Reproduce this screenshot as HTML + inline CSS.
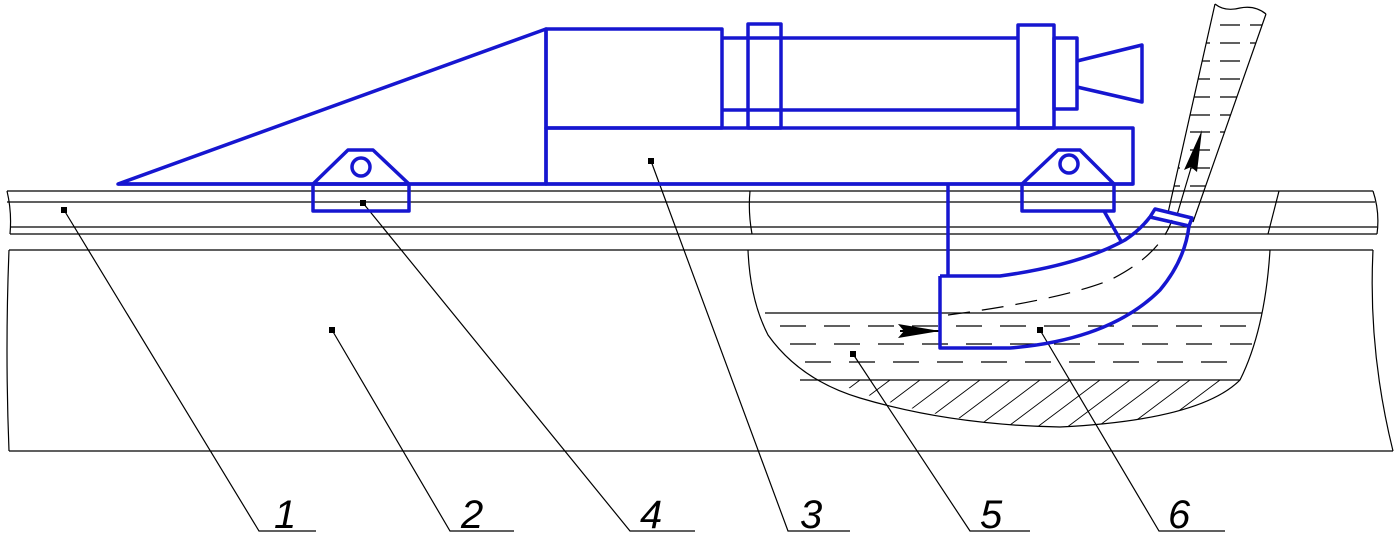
<!DOCTYPE html>
<html><head><meta charset="utf-8"><style>
html,body{margin:0;padding:0;background:#fff;}
svg{display:block;}
text{font-family:"Liberation Sans",sans-serif;font-style:italic;font-size:40px;fill:#000;}
</style></head><body>
<svg width="1397" height="544" viewBox="0 0 1397 544" xmlns="http://www.w3.org/2000/svg">
<defs>
<clipPath id="hc"><path d="M800,380 L1240,380 Q1200,420 1060,427 Q930,425 830,380 Z"/></clipPath>
<clipPath id="pc"><path d="M1215,4 L1266,14 L1193,222 L1168,213 Z"/></clipPath>
</defs>
<g fill="none" stroke="#000" stroke-width="1.2">
<!-- rail -->
<path d="M7,191 L1373,191 M7,202 L1375,202 M10,227 L1377,227 M10,234 L1377,234"/>
<path d="M7,191 Q12,212 10,234 M1373,191 Q1380,212 1377,234"/>
<path d="M750,191 Q748,212 752,234 M1279,191 L1268,234"/>
<!-- body -->
<path d="M9,250 L1373,250 M9,451 L1393,451"/>
<path d="M9,250 Q5,350 9,451 M1373,250 Q1368,350 1393,451"/>
<!-- pit -->
<path d="M748,250 Q750,300 768,335 Q800,380 860,398 Q950,425 1060,427 Q1200,420 1240,380 Q1265,330 1270,250"/>
<path d="M765,313 L1262,313 M800,380 L1240,380"/>
<path d="M780,326 L1258,326 M790,344 L1252,344 M805,362 L1245,362" stroke-dasharray="26,18"/>
<g clip-path="url(#hc)">
<path d="M780,440 L860,380 M810,440 L890,380 M840,440 L920,380 M870,440 L950,380 M900,440 L980,380 M930,440 L1010,380 M960,440 L1040,380 M990,440 L1070,380 M1020,440 L1100,380 M1050,440 L1130,380 M1080,440 L1160,380 M1110,440 L1190,380 M1140,440 L1220,380 M1170,440 L1250,380" stroke-width="0.9"/>
</g>
<!-- vertical pipe -->
<path d="M1215,4 L1168,213 M1266,14 L1193,222"/>
<path d="M1215,4 Q1225,12 1240,8 Q1255,5 1266,14"/>
<g clip-path="url(#pc)">
<path d="M1160,25 L1280,25 M1160,43 L1280,43 M1160,61 L1280,61 M1160,79 L1280,79 M1160,97 L1280,97 M1160,115 L1280,115 M1160,132 L1280,132 M1160,150 L1280,150 M1160,168 L1280,168 M1160,186 L1280,186" stroke-dasharray="20,10"/>
</g>
<path d="M1177,215 L1191,168"/>
<!-- leaders -->
<path d="M64,210 L259,531 L316,531"/>
<path d="M332,330 L450,531 L514,531"/>
<path d="M363,203 L630,531 L695,531"/>
<path d="M651,161 L788,531 L850,531"/>
<path d="M853,354 L970,531 L1030,531"/>
<path d="M1040,330 L1159,531 L1225,531"/>
<!-- elbow dashed centre -->
<path d="M948,315 Q1060,300 1110,280 Q1160,255 1172,220" stroke-dasharray="22,12"/>
</g>
<!-- arrows -->
<path d="M1202,130 L1184,170 L1191,167 L1197,172 Z" fill="#000"/>
<path d="M940,331 L898,324 L904,331 L898,338 Z" fill="#000"/>
<path d="M900,331 L940,331" stroke="#000" stroke-width="2"/>
<!-- small markers -->
<g fill="#000">
<rect x="61" y="207" width="6" height="6"/><rect x="360" y="200" width="6" height="6"/>
<rect x="329" y="327" width="6" height="6"/><rect x="648" y="158" width="6" height="6"/>
<rect x="850" y="351" width="6" height="6"/><rect x="1037" y="327" width="6" height="6"/>
</g>
<!-- blue machine -->
<g fill="none" stroke="#1616d0" stroke-width="3.5" stroke-linejoin="round">
<path d="M118,184 L546,29 L546,184 Z"/>
<path d="M118,184 L1133,184"/>
<rect x="546" y="29" width="176" height="99"/>
<path d="M722,38 L1018,38 M722,110 L1018,110"/>
<rect x="748" y="24" width="33" height="104"/>
<rect x="1018" y="25" width="36" height="103"/>
<rect x="1054" y="38" width="23" height="71"/>
<path d="M1077,61 L1142,45 L1142,102 L1077,87"/>
<rect x="546" y="128" width="587" height="56"/>
<!-- left bracket -->
<rect x="313" y="184" width="96" height="27"/>
<path d="M313,184 L348,150 L373,150 L409,184"/>
<circle cx="361" cy="167" r="9"/>
<!-- right bracket -->
<rect x="1022" y="184" width="92" height="27"/>
<path d="M1022,184 L1058,150 L1080,150 L1114,184"/>
<circle cx="1069" cy="164" r="9"/>
<path d="M1104,211 L1121,241"/>
<!-- housing + elbow -->
<path d="M948,184 L948,276"/>
<path d="M940,276 L940,348 L1010,348 Q1110,340 1160,290 Q1185,260 1189,226"/>
<path d="M940,276 L1000,276 Q1080,265 1125,240 Q1140,230 1150,217"/>
<path d="M1150,217 L1155,209 L1192,218 L1189,226 Z"/>
</g>
<!-- labels -->
<text x="274" y="528">1</text>
<text x="461" y="528">2</text>
<text x="640" y="528">4</text>
<text x="800" y="528">3</text>
<text x="980" y="528">5</text>
<text x="1168" y="528">6</text>
</svg>
</body></html>
